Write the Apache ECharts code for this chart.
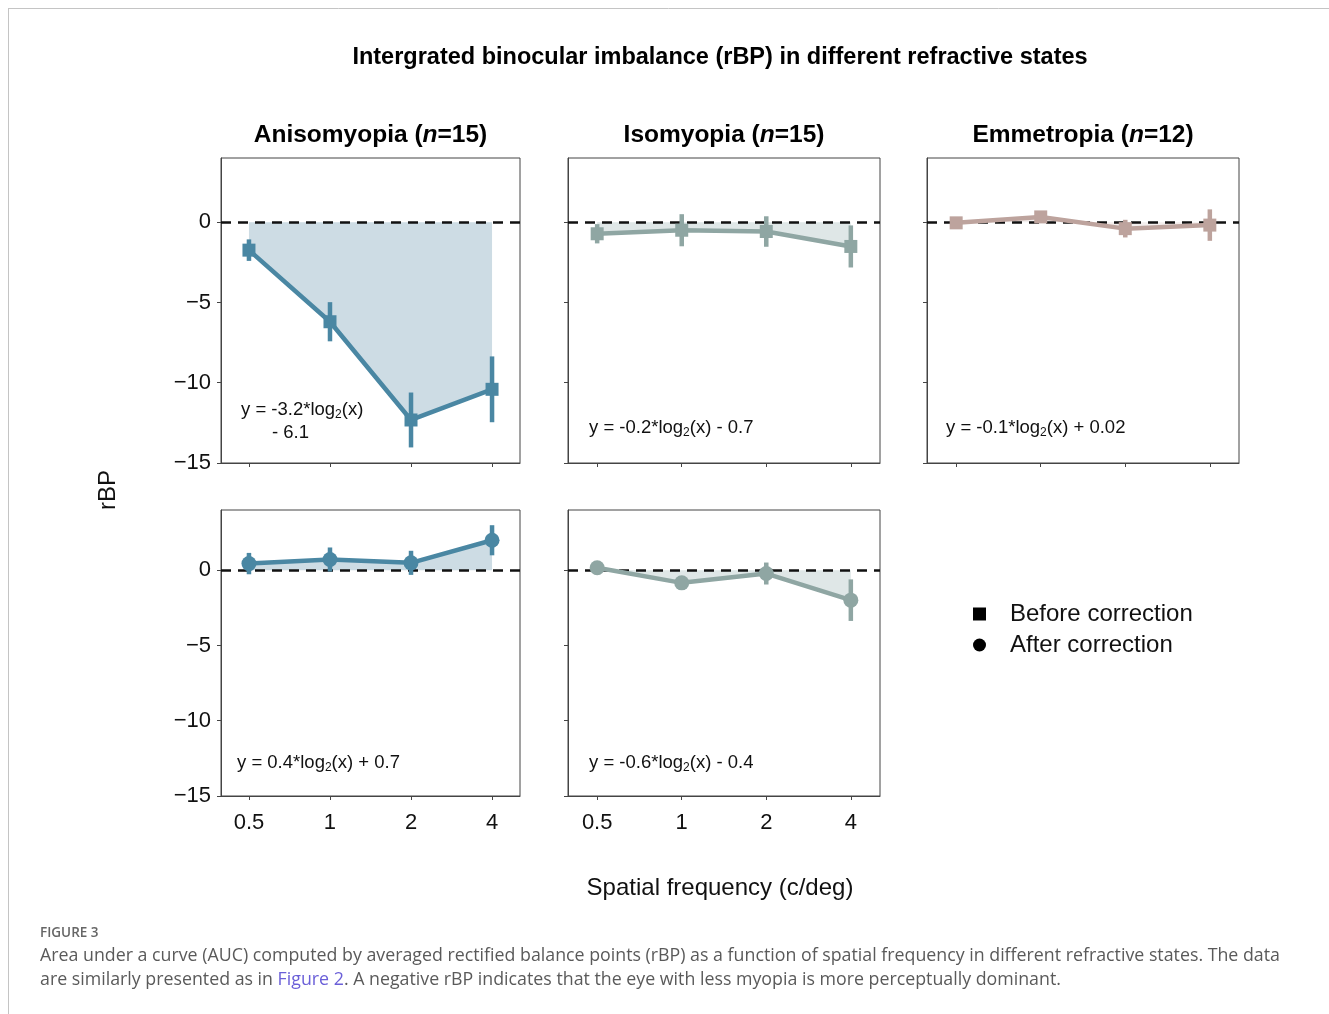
<!DOCTYPE html>
<html>
<head>
<meta charset="utf-8">
<script src="https://cdn.jsdelivr.net/npm/echarts@6/dist/echarts.min.js"></script>
<style>
  html, body { margin: 0; padding: 0; background: #fff; }
  #chart { width: 1329px; height: 1014px; }
</style>
</head>
<body>
<div id="chart"></div>
<script>
// ---- data ----
const freqs = [0.5, 1, 2, 4];
const freqLabels = ['0.5', '1', '2', '4'];
const yTicks = [-15, -10, -5, 0];

const anisoBefore = [-1.74, -6.20, -12.32, -10.41];
const anisoBeforeErr = [0.67, 1.22, 1.71, 2.05];
const isoBefore = [-0.72, -0.50, -0.58, -1.51];
const isoBeforeErr = [0.60, 1.00, 0.95, 1.31];
const emmBefore = [-0.04, 0.33, -0.40, -0.18];
const emmBeforeErr = [0.25, 0.25, 0.55, 0.98];
const anisoAfter = [0.44, 0.71, 0.49, 1.99];
const anisoAfterErr = [0.71, 0.80, 0.80, 1.00];
const isoAfter = [0.16, -0.84, -0.22, -1.99];
const isoAfterErr = [0.20, 0.30, 0.73, 1.38];

const panelTitles = ['Anisomyopia', 'Isomyopia', 'Emmetropia'];
const panelN = [15, 15, 12];

// ---- layout / style ----
const FONT = '"Liberation Sans", Arial, Helvetica, sans-serif';
const COL = {
  aniso: { line: '#4a87a3', fill: '#cddce4' },
  iso: { line: '#8fa6a3', fill: '#dfe7e7' },
  emm: { line: '#bda39d', fill: '#f4efee' }
};
const grids = [
  { left: 221, top: 158, width: 299, height: 305 },
  { left: 568, top: 158, width: 312, height: 305 },
  { left: 927, top: 158, width: 312, height: 305 },
  { left: 221, top: 510, width: 299, height: 286 },
  { left: 568, top: 510, width: 312, height: 286 }
];
const panels = [
  { g: 0, vals: anisoBefore, err: anisoBeforeErr, c: COL.aniso, sym: 'rect', name: 'Before correction' },
  { g: 1, vals: isoBefore, err: isoBeforeErr, c: COL.iso, sym: 'rect', name: 'Before correction' },
  { g: 2, vals: emmBefore, err: emmBeforeErr, c: COL.emm, sym: 'rect', name: 'Before correction' },
  { g: 3, vals: anisoAfter, err: anisoAfterErr, c: COL.aniso, sym: 'circle', name: 'After correction' },
  { g: 4, vals: isoAfter, err: isoAfterErr, c: COL.iso, sym: 'circle', name: 'After correction' }
];

const xPos = freqs.map(f => Math.log2(f));
const xMin = -1.345, xMax = 2.345;

const xAxes = grids.map((g, i) => ({
  gridIndex: i, type: 'value', min: xMin, max: xMax,
  axisLine: { show: true, onZero: false, lineStyle: { color: '#444', width: 1 } },
  axisTick: { show: true, customValues: xPos, length: 4, lineStyle: { color: '#444' } },
  axisLabel: {
    show: i >= 3, customValues: xPos, margin: 16,
    fontFamily: FONT, fontSize: 22, color: '#111',
    formatter: v => { const k = xPos.findIndex(p => Math.abs(p - v) < 1e-6); return k >= 0 ? freqLabels[k] : ''; }
  },
  splitLine: { show: false }
}));
const yAxes = grids.map((g, i) => ({
  gridIndex: i, type: 'value', min: -15, max: 4,
  axisLine: { show: true, onZero: false, lineStyle: { color: '#444', width: 1 } },
  axisTick: { show: true, customValues: yTicks, length: 4, lineStyle: { color: '#444' } },
  axisLabel: {
    show: i === 0 || i === 3, customValues: yTicks, margin: 10,
    fontFamily: FONT, fontSize: 22, color: '#111',
    formatter: v => (v < 0 ? '\u2212' + Math.abs(v) : String(v))
  },
  splitLine: { show: false }
}));

const series = [];
panels.forEach(p => {
  const pts = xPos.map((x, k) => [x, p.vals[k]]);
  // filled area between curve and zero
  series.push({
    type: 'line', name: 'area' + p.g, xAxisIndex: p.g, yAxisIndex: p.g,
    data: pts, showSymbol: false, silent: true, z: 1,
    lineStyle: { width: 0 },
    areaStyle: { origin: 0, color: p.c.fill, opacity: 1 },
    markLine: {
      silent: true, symbol: 'none', z: 2, label: { show: false },
      lineStyle: { color: '#111', type: [10, 7], width: 2.5 },
      data: [{ yAxis: 0 }]
    }
  });
  // error bars
  series.push({
    type: 'custom', name: 'err' + p.g, xAxisIndex: p.g, yAxisIndex: p.g, z: 3,
    data: xPos.map((x, k) => [x, p.vals[k], p.err[k]]),
    encode: { x: 0, y: 1 },
    renderItem: (params, api) => {
      const x = api.value(0), y = api.value(1), e = api.value(2);
      const a = api.coord([x, y + e]), b = api.coord([x, y - e]);
      return { type: 'line', shape: { x1: a[0], y1: a[1], x2: b[0], y2: b[1] },
        style: { stroke: p.c.line, lineWidth: 4.5 } };
    }
  });
  // line + markers
  series.push({
    type: 'line', name: p.name, xAxisIndex: p.g, yAxisIndex: p.g, z: 4,
    data: pts, symbol: p.sym, symbolSize: p.sym === 'rect' ? 13 : 15,
    showSymbol: true, lineStyle: { color: p.c.line, width: 4.5 },
    itemStyle: { color: p.c.line }
  });
});

const eqRich = {
  m: { fontFamily: FONT, fontSize: 18.5, lineHeight: 22, fill: '#111' },
  s: { fontFamily: FONT, fontSize: 12, lineHeight: 12, verticalAlign: 'bottom', fill: '#111' }
};
function eqText(x, y, str) {
  return { type: 'text', x: x, y: y, style: { text: str, rich: eqRich, textVerticalAlign: 'middle', textAlign: 'left' } };
}

const CAP_FONT = '"Open Sans", ' + FONT;
const graphics = [
  { type: 'line', shape: { x1: 8, y1: 8.5, x2: 1329, y2: 8.5 }, style: { stroke: '#c4c4c4', lineWidth: 1 } },
  { type: 'line', shape: { x1: 8.5, y1: 8, x2: 8.5, y2: 1014 }, style: { stroke: '#c4c4c4', lineWidth: 1 } },
  { type: 'text', x: 720, y: 58, style: { text: 'Intergrated binocular imbalance (rBP) in different refractive states',
      font: 'bold 23.5px ' + FONT, fill: '#000', textAlign: 'center', textVerticalAlign: 'middle' } },
  { type: 'text', x: 108, y: 490, rotation: Math.PI / 2, style: { text: 'rBP', font: '24px ' + FONT, fill: '#111', textAlign: 'center', textVerticalAlign: 'middle' } },
  { type: 'text', x: 720, y: 888, style: { text: 'Spatial frequency (c/deg)', font: '24px ' + FONT, fill: '#111', textAlign: 'center', textVerticalAlign: 'middle' } },
  eqText(241, 410, '{m|y = -3.2*log}{s|2}{m|(x)}'),
  eqText(272, 433, '{m|- 6.1}'),
  eqText(589, 428, '{m|y = -0.2*log}{s|2}{m|(x) - 0.7}'),
  eqText(946, 428, '{m|y = -0.1*log}{s|2}{m|(x) + 0.02}'),
  eqText(237, 763, '{m|y = 0.4*log}{s|2}{m|(x) + 0.7}'),
  eqText(589, 763, '{m|y = -0.6*log}{s|2}{m|(x) - 0.4}'),
  { type: 'text', x: 40, y: 933, style: { text: 'FIGURE 3', font: '600 13.5px ' + CAP_FONT, fill: '#666', textAlign: 'left', textVerticalAlign: 'middle' } },
  { type: 'text', x: 40, y: 956, style: { text: 'Area under a curve (AUC) computed by averaged rectified balance points (rBP) as a function of spatial frequency in different refractive states. The data',
      font: '17.8px ' + CAP_FONT, fill: '#5a5a5a', textAlign: 'left', textVerticalAlign: 'middle' } },
  { type: 'text', x: 40, y: 980, style: { text: '{a|are similarly presented as in }{b|Figure 2}{a|. A negative rBP indicates that the eye with less myopia is more perceptually dominant.}',
      rich: { a: { fontFamily: CAP_FONT, fontSize: 17.8, fill: '#5a5a5a' }, b: { fontFamily: CAP_FONT, fontSize: 17.8, fill: '#6a5fd8' } },
      textAlign: 'left', textVerticalAlign: 'middle' } }
];
[0, 1, 2].forEach(i => {
  const g = grids[i];
  graphics.push({ type: 'text', x: g.left + g.width / 2, y: 135, style: {
    text: '{t|' + panelTitles[i] + ' (}{i|n}{t|=' + panelN[i] + ')}',
    rich: { t: { fontFamily: FONT, fontWeight: 'bold', fontSize: 24.5, fill: '#000' },
            i: { fontFamily: FONT, fontWeight: 'bold', fontStyle: 'italic', fontSize: 24.5, fill: '#000' } },
    textAlign: 'center', textVerticalAlign: 'middle' } });
});

const option = {
  backgroundColor: '#fff',
  animation: false,
  textStyle: { fontFamily: FONT },
  grid: grids.map(g => Object.assign({ show: true, borderColor: '#444', borderWidth: 1, backgroundColor: 'transparent' }, g)),
  xAxis: xAxes,
  yAxis: yAxes,
  legend: {
    orient: 'vertical', left: 968, top: 597, itemWidth: 13, itemHeight: 13, itemGap: 7,
    selectedMode: false,
    textStyle: { fontFamily: FONT, fontSize: 24, color: '#111', padding: [0, 0, 0, 19] },
    data: [
      { name: 'Before correction', icon: 'rect', itemStyle: { color: '#000' } },
      { name: 'After correction', icon: 'circle', itemStyle: { color: '#000' } }
    ]
  },
  series: series,
  graphic: graphics
};

const chart = echarts.init(document.getElementById('chart'), null, { renderer: 'canvas' });
chart.setOption(option);
</script>
</body>
</html>
